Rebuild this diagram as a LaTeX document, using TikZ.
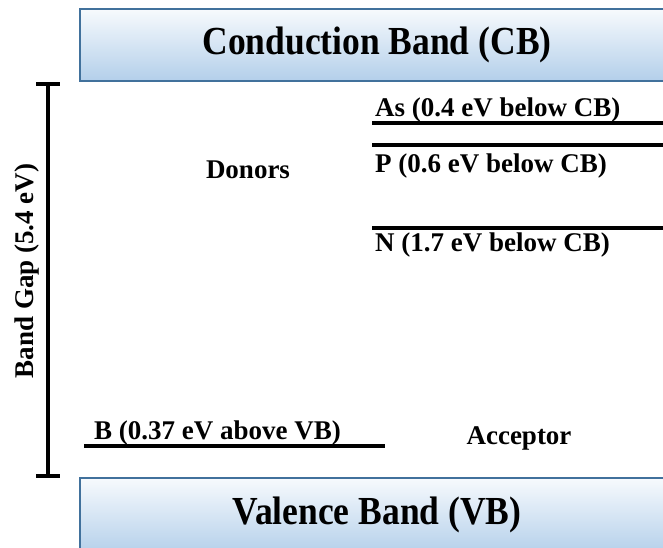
\documentclass[tikz,border=0pt]{standalone}
\usepackage{fontspec}
\setmainfont{Liberation Serif}
\newcommand{\tallbox}[1]{\scalebox{1}[1.12]{#1}}
\begin{document}
\begin{tikzpicture}[x=1pt,y=-1pt,
  band/.style={draw=bandedge,line width=1.5pt,top color=bandtop,bottom color=bandbot},
  bandtext/.style={font=\fontsize{35.5}{40}\selectfont\bfseries},
  lbl/.style={font=\fontsize{27}{30}\selectfont\bfseries,inner sep=0pt},
  level/.style={line width=4pt},
  gapbar/.style={line width=4.5pt}]
\definecolor{bandedge}{HTML}{41719C}
\definecolor{bandtop}{HTML}{F7FAFD}
\definecolor{bandbot}{HTML}{B3CFEA}
\useasboundingbox (0,0) rectangle (663,547);
% bands
\path[band] (80,9) rectangle (670,81);
\path[band] (80,478) rectangle (670,555);
\node[bandtext] (cb) at (377,45) {\tallbox{Conduction Band (CB)}};
\node[bandtext] (vb) at (377,515) {\tallbox{Valence Band (VB)}};
% band gap bar
\coordinate (gt) at (48,84);
\coordinate (gb) at (48,476);
\coordinate (gtl) at (36,84); \coordinate (gtr) at (60,84);
\coordinate (gbl) at (36,476); \coordinate (gbr) at (60,476);
\draw[gapbar] (gt) -- (gb);
\draw[gapbar] (gtl) -- (gtr);
\draw[gapbar] (gbl) -- (gbr);
\node[lbl,rotate=90] (gap) at (27,271) {Band Gap (5.4 eV)};
% donor levels
\coordinate (as1) at (372,123); \coordinate (as2) at (670,123);
\coordinate (p1) at (372,145); \coordinate (p2) at (670,145);
\coordinate (n1) at (372,228); \coordinate (n2) at (670,228);
\draw[level] (as1) -- (as2);
\draw[level] (p1) -- (p2);
\draw[level] (n1) -- (n2);
\node[lbl,anchor=base west] (ast) at (375,116) {As (0.4 eV below CB)};
\node[lbl,anchor=base west] (pt) at (375,172) {P (0.6 eV below CB)};
\node[lbl,anchor=base west] (nt) at (375,251) {N (1.7 eV below CB)};
\node[lbl,anchor=base] (don) at (248,178) {Donors};
% acceptor level
\coordinate (b1) at (84,446); \coordinate (b2) at (385,446);
\draw[level] (b1) -- (b2);
\node[lbl,anchor=base west] (bt) at (94,439) {B (0.37 eV above VB)};
\node[lbl,anchor=base] (acc) at (519,444) {Acceptor};
\end{tikzpicture}
\end{document}
